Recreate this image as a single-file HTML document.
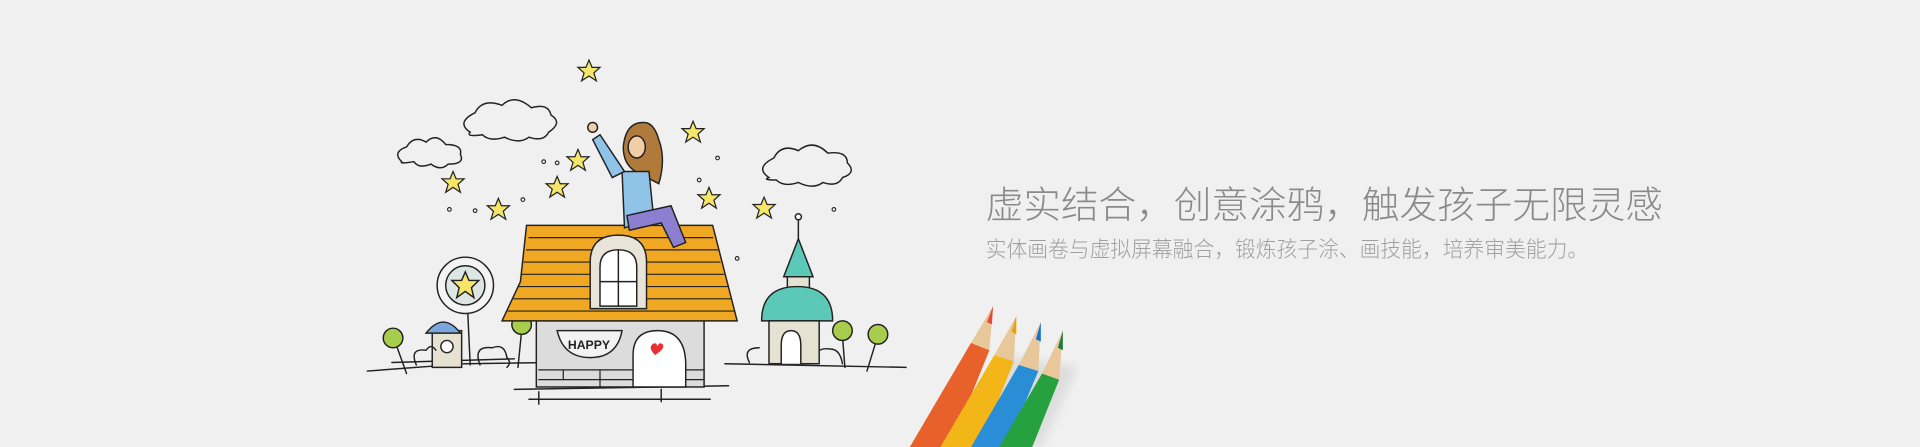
<!DOCTYPE html>
<html><head><meta charset="utf-8"><style>
html,body{margin:0;padding:0;background:#f0f0f0;width:1920px;height:447px;overflow:hidden}
svg{display:block}
text{font-family:"Liberation Sans","Noto Sans CJK SC",sans-serif}
</style></head><body>
<svg width="1920" height="447" viewBox="0 0 1568 365" xmlns="http://www.w3.org/2000/svg">
<rect width="1568" height="365" fill="#f0f0f0"/>
<g stroke="#222" stroke-width="1.2" stroke-linecap="round">
 <!-- ground lines -->
 <g fill="none">
  <path d="M300 303 L380 297 L520 295"/><path d="M320 296 L420 293"/>
  <path d="M592 297 L740 300"/><path d="M420 318 L595 315"/><path d="M432 326 L580 326"/>
  <path d="M440 320 L440 330"/><path d="M540 318 L540 328"/>
 </g>
 <!-- clouds -->
 <g fill="#fff" fill-opacity="0">
  <path d="M328 132 q-8-8 4-12 q6-10 16-4 q8-8 16 2 q14 0 12 8 q4 8-10 8 q-6 6-14 0 q-10 4-14-2 q-12 2-10 0z"/>
  <path d="M384 108 q-12-8 4-16 q6-12 22-6 q10-10 24 2 q14-4 16 6 q10 6-2 14 q-4 8-16 4 q-8 6-20 0 q-12 4-18-2 q-14 2-10-2z"/>
  <path d="M628 145 q-12-8 4-16 q6-12 20-6 q12-10 24 2 q16-2 16 8 q8 8-4 12 q-4 8-16 4 q-8 6-20 0 q-12 4-18-2 q-12 0-6-2z"/>
 </g>
 <!-- stars -->
 <g fill="#f5e66a" stroke-width="1">
  <path transform="translate(481 58)" d="M0-9 L2.5-3 L9-3 L4 1.5 L6 8 L0 4 L-6 8 L-4 1.5 L-9-3 L-2.5-3Z"/>
  <path transform="translate(566 108)" d="M0-9 L2.5-3 L9-3 L4 1.5 L6 8 L0 4 L-6 8 L-4 1.5 L-9-3 L-2.5-3Z"/>
  <path transform="translate(472 131)" d="M0-9 L2.5-3 L9-3 L4 1.5 L6 8 L0 4 L-6 8 L-4 1.5 L-9-3 L-2.5-3Z"/>
  <path transform="translate(370 149)" d="M0-9 L2.5-3 L9-3 L4 1.5 L6 8 L0 4 L-6 8 L-4 1.5 L-9-3 L-2.5-3Z"/>
  <path transform="translate(455 153)" d="M0-9 L2.5-3 L9-3 L4 1.5 L6 8 L0 4 L-6 8 L-4 1.5 L-9-3 L-2.5-3Z"/>
  <path transform="translate(407 171)" d="M0-9 L2.5-3 L9-3 L4 1.5 L6 8 L0 4 L-6 8 L-4 1.5 L-9-3 L-2.5-3Z"/>
  <path transform="translate(579 162)" d="M0-9 L2.5-3 L9-3 L4 1.5 L6 8 L0 4 L-6 8 L-4 1.5 L-9-3 L-2.5-3Z"/>
  <path transform="translate(624 170)" d="M0-9 L2.5-3 L9-3 L4 1.5 L6 8 L0 4 L-6 8 L-4 1.5 L-9-3 L-2.5-3Z"/>
 </g>
 <g fill="none" stroke-width="0.9">
  <circle cx="444" cy="132" r="1.5"/><circle cx="455" cy="133" r="1.5"/><circle cx="586" cy="129" r="1.5"/>
  <circle cx="388" cy="172" r="1.5"/><circle cx="367" cy="171" r="1.5"/><circle cx="427" cy="163" r="1.5"/>
  <circle cx="571" cy="147" r="1.5"/><circle cx="681" cy="171" r="1.5"/><circle cx="602" cy="211" r="1.5"/>
</g>
 <!-- clock -->
 <g>
  <line x1="382" y1="255" x2="384" y2="298"/>
  <circle cx="380" cy="233" r="23" fill="#f4f4f4"/>
  <circle cx="380" cy="233" r="16" fill="#dde6e2"/>
  <path transform="translate(380 233)" fill="#f5e66a" d="M0-11 L3-4 L11-4 L5 2 L7 10 L0 5 L-7 10 L-5 2 L-11-4 L-3-4Z"/>
 </g>
 <!-- small hut -->
 <g>
  <rect x="353" y="270" width="24" height="30" fill="#e6e2d2"/>
  <path d="M348 272 q14-18 28 0z" fill="#7aa6dc"/>
  <circle cx="365" cy="283" r="5" fill="#fff"/>
 </g>
 <!-- trees -->
 <g fill="#a8cc4c">
  <line x1="323" y1="280" x2="332" y2="305"/><circle cx="321" cy="276" r="8"/>
  <line x1="426" y1="270" x2="423" y2="300"/><circle cx="426" cy="265" r="8"/>
  <line x1="688" y1="274" x2="690" y2="300"/><circle cx="688" cy="270" r="8"/>
  <line x1="716" y1="277" x2="708" y2="303"/><circle cx="717" cy="273" r="8"/>
 </g>
 <g fill="none">
  <path d="M340 298 q-6-14 8-12 q4-6 8 0"/><path d="M392 298 q-6-16 10-14 q10-4 12 8 q4 4 0 8"/>
  <path d="M612 296 q-6-12 8-12"/><path d="M668 297 q-4-14 10-12 q8 0 10 12"/>
 </g>
 <!-- house body -->
 <g>
  <rect x="438" y="262" width="137" height="54" fill="#dcdcdc"/>
  <g fill="none" stroke-width="1"><path d="M440 302 H575 M440 310 H575 M460 302 V310 M490 302 V316 M520 310 V316"/></g>
  <path d="M455 270 H508 q-4 22-26 22 q-22 0-27-22z" fill="#f2f2f2"/>
  <text x="481" y="285" text-anchor="middle" font-family="Liberation Serif,serif" font-weight="bold" font-size="10" fill="#222" stroke="none">HAPPY</text>
  <path d="M517 316 V290 q0-20 20-20 q22 0 23 26 V316z" fill="#fff"/>
  <path d="M535 290 q-6-6-2-9 q3-2 4 2 q1-4 4-2 q3 3-6 9z" fill="#e83030" stroke="none"/>
 </g>
 <!-- roof -->
 <g>
  <path d="M430 184 L582 184 L602 262 L410 262 L425 230 Z" fill="#f0a823"/>
  <g fill="none" stroke-width="1">
   <path d="M432 194 H582 M430 204 H586 M428 214 H588 M426 224 H591 M423 234 H594 M419 244 H597 M415 254 H600"/>
  </g>
  <path d="M482 252 V214 q0-22 23-22 q23 0 23 22 V252z" fill="#e8e4d8"/>
  <path d="M490 250 V218 q0-14 15-14 q15 0 15 14 V250z" fill="#fff"/>
  <path d="M505 204 V250 M490 230 H520" fill="none"/>
 </g>
 <!-- girl -->
 <g>
  <path d="M525 100 q-14 0-16 20 q0 14 10 20 L538 150 q6-20 0-36 q-4-14-12-14z" fill="#b07a3a"/>
  <path d="M508 140 L530 140 L534 180 L510 186z" fill="#8fc3e8"/>
  <path d="M510 140 L490 110 L484 114 L500 145z" fill="#8fc3e8"/>
  <circle cx="484" cy="104" r="4" fill="#f0cfa8"/>
  <ellipse cx="520" cy="120" rx="7" ry="9" fill="#f0cfa8"/>
  <path d="M512 176 L548 168 L560 198 L550 202 L540 182 L514 188z" fill="#8c7fd0"/>
 </g>
 <!-- church -->
 <g>
  <line x1="652" y1="176" x2="652" y2="196"/><circle cx="652" cy="177" r="2.5" fill="#fff"/>
  <path d="M652 195 L664 226 L640 226z" fill="#5cc8b8"/>
  <rect x="643" y="226" width="18" height="14" fill="#e6e2d2"/>
  <path d="M622 262 q0-28 29-28 q29 0 29 28z" fill="#5cc8b8"/>
  <rect x="628" y="262" width="41" height="35" fill="#e6e2d2"/>
  <path d="M638 297 V282 q0-12 8-12 q8 0 8 12 V297" fill="#fff"/>
 </g>
</g>
<!-- pencils -->
<g>
 <defs>
  <filter id="sh" x="-50%" y="-50%" width="200%" height="200%"><feGaussianBlur stdDeviation="4"/></filter>
 </defs>
 <path d="M820 290 L880 300 L850 365 L790 365z" fill="#000" opacity="0.08" filter="url(#sh)"/>
 <g>
  <path d="M793 280 L808 286 L776 365 L743 365z" fill="#e8602a"/>
  <path d="M793 280 L808 286 L811 250z" fill="#e8c89a"/>
  <path d="M806 263 L810 265 L811 250z" fill="#e84a3a"/>
 </g>
 <g>
  <path d="M812 290 L828 295 L800 365 L768 365z" fill="#f2b619"/>
  <path d="M812 290 L828 295 L830 258z" fill="#e8c89a"/>
  <path d="M826 271 L830 273 L830 258z" fill="#e8a010"/>
 </g>
 <g>
  <path d="M832 298 L848 303 L822 365 L793 365z" fill="#2a8ed6"/>
  <path d="M832 298 L848 303 L850 263z" fill="#e8c89a"/>
  <path d="M846 277 L850 279 L850 263z" fill="#1a70c8"/>
 </g>
 <g>
  <path d="M851 305 L865 310 L843 365 L816 365z" fill="#27a040"/>
  <path d="M851 305 L865 310 L868 270z" fill="#e8c89a"/>
  <path d="M864 284 L868 286 L868 270z" fill="#1d7a38"/>
 </g>
</g>
<text x="805" y="178" font-size="30.5" font-weight="300" fill="#8a8a8a" textLength="553" lengthAdjust="spacingAndGlyphs">虚实结合，创意涂鸦，触发孩子无限灵感</text>
<text x="805" y="210" font-size="18" font-weight="300" fill="#a0a0a0" textLength="492" lengthAdjust="spacingAndGlyphs">实体画卷与虚拟屏幕融合，锻炼孩子涂、画技能，培养审美能力。</text>
</svg>
</body></html>
